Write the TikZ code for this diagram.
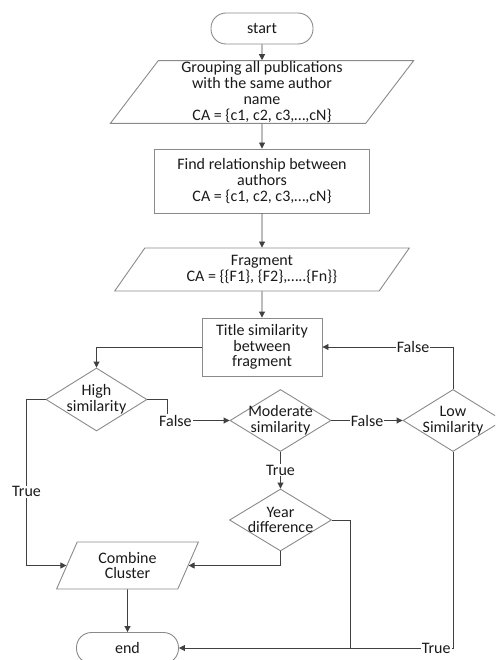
\documentclass[tikz,border=0pt]{standalone}
\usepackage{fontspec}
\setmainfont{Carlito}
\usetikzlibrary{shapes.geometric,arrows.meta}
\definecolor{boxgray}{HTML}{8A8A8A}
\definecolor{linegray}{HTML}{404040}
\definecolor{txt}{HTML}{1A1A1A}
\begin{document}
\begin{tikzpicture}[x=1pt,y=-1pt,
  every node/.style={font=\fontsize{16}{15.8}\selectfont, text=txt},
  box/.style={draw=boxgray, line width=0.9pt, align=center, inner sep=1pt},
  term/.style={box, rectangle, rounded corners=15pt, minimum width=102pt, minimum height=31pt},
  proc/.style={box, rectangle},
  io/.style={box, trapezium, trapezium stretches=true},
  dec/.style={box, diamond, inner sep=0pt},
  wire/.style={draw=linegray, line width=0.9pt},
  conn/.style={wire, -{Triangle[length=6pt,width=6pt]}},
  lbl/.style={fill=white, inner sep=1pt}]
\useasboundingbox (0,0) rectangle (495,660);
\clip (0,0) rectangle (495,660);

% nodes
\node[term] (start) at (262,28.5) {start};
\node[io, trapezium left angle=59, trapezium right angle=121,
      minimum width=304pt, minimum height=62pt] (group) at (262,92)
  {Grouping all publications\\with the same author\\name\\CA = \{c1, c2, c3,…,cN\}};
\node[proc, minimum width=215pt, minimum height=64pt] (find) at (262,181)
  {Find relationship between\\authors\\CA = \{c1, c2, c3,…,cN\}};
\node[io, trapezium left angle=57, trapezium right angle=123,
      minimum width=295pt, minimum height=43pt] (frag) at (262,269.5)
  {Fragment\\CA = \{\{F1\}, \{F2\},…..\{Fn\}\}};
\node[proc, minimum width=120pt, minimum height=58pt] (title) at (262,347)
  {Title similarity\\between\\fragment};
\node[dec, minimum width=101pt, minimum height=63pt,
      label={[align=center]center:High\\similarity}] (high) at (96.5,399.5) {};
\node[dec, minimum width=101pt, minimum height=62pt,
      label={[align=center]center:Moderate\\similarity}] (mod) at (280.5,420.5) {};
\node[dec, minimum width=100pt, minimum height=62pt,
      label={[align=center]center:Low\\Similarity}] (low) at (453,420.5) {};
\node[dec, minimum width=102pt, minimum height=62pt,
      label={[align=center]center:Year\\difference}] (year) at (280.5,520) {};
\node[io, trapezium left angle=67, trapezium right angle=113,
      minimum width=143pt, minimum height=47pt] (comb) at (127.5,565.5)
  {Combine\\Cluster};
\node[term] (end) at (127.5,648) {end};
\coordinate (yj) at (350,648);

% connectors
\draw[conn] (start) -- (group);
\draw[conn] (group) -- (find);
\draw[conn] (find) -- (frag);
\draw[conn] (frag) -- (title);
\draw[conn] (title) -| (high);
\draw[conn] (high.east) -- ++(20,0) |- node[lbl, pos=0.5, xshift=8pt] {False} (mod);
\draw[conn] (mod) -- node[lbl] {False} (low);
\draw[conn] (low) |- node[lbl, pos=0.653] {False} (title);
\draw[conn] (mod) -- node[lbl] {True} (year);
\draw[conn] (high.west) -- ++(-19,0) |- node[lbl, pos=0.278] {True} (comb);
\draw[conn] (year) |- (comb);
\draw[wire] (year.east) -| (yj);
\draw[conn] (low) |- node[lbl, pos=0.5, anchor=east, xshift=-1pt] {True} (end);
\draw[conn] (comb) -- (end);
\end{tikzpicture}
\end{document}
